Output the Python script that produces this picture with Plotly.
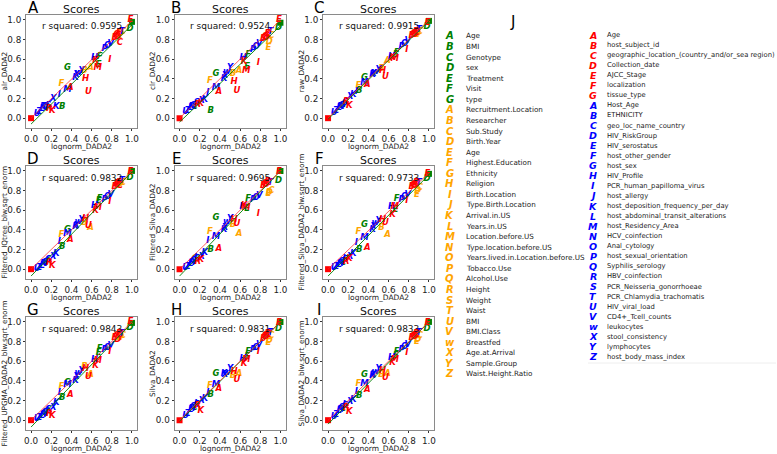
import plotly.graph_objects as go

W, H = 777, 454

# ---------------- data ----------------
panel_labels = ['A', 'B', 'C', 'D', 'E', 'F', 'G', 'H', 'I']
y_titles = ['alr_DADA2', 'clr_DADA2', 'raw_DADA2',
            'Filtered_IQtree_blw.sqrt_enorm', 'Filtered_Silva_DADA2',
            'Filtered_Silva_DADA2_blw.sqrt_enorm',
            'Filtered_UPGMA_DADA2_blw.sqrt_enorm', 'Silva_DADA2',
            'Silva_DADA2_blw.sqrt_enorm']
x_title = 'lognorm_DADA2'
r_squared = [0.9595, 0.9524, 0.9915, 0.9832, 0.9695, 0.9733, 0.9843, 0.9831, 0.9833]

point_colors = ['red', 'green', 'red', 'green', 'orange', 'orange', 'orange', 'red', 'red', 'red',
                'red', 'red', 'blue', 'blue', 'blue', 'blue', 'red', 'green', 'blue', 'red',
                'green', 'red', 'orange', 'red', 'red', 'orange', 'blue', 'blue', 'blue', 'blue',
                'green', 'blue', 'red', 'orange', 'blue', 'green', 'blue', 'blue', 'red', 'red',
                'blue', 'green', 'blue', 'blue', 'blue', 'blue', 'blue', 'blue']
point_letters = ['■', '■', 'E', 'D', 'C', 'D', 'E', 'F', 'G', 'B',
                 'C', 'D', 'T', 'V', 'O', 'P', 'I', 'F', 'H', 'K',
                 'E', 'M', 'A', 'U', 'H', 'B', 'Y', 'w', 'X', 'K',
                 'G', 'M', 'A', 'F', 'I', 'B', 'K', 'X', 'K', 'R',
                 'S', 'C', 'Q', 'L', 'Z', 'U', 'J', 'R']
point_x = [0.00, 1.00, 0.985, 0.98, 0.91, 0.89, 0.88, 0.87, 0.85, 0.83,
           0.88, 0.86, 0.90, 0.79, 0.76, 0.73, 0.78, 0.68, 0.63, 0.64,
           0.67, 0.66, 0.59, 0.57, 0.54, 0.53, 0.50, 0.47, 0.45, 0.44,
           0.36, 0.36, 0.39, 0.30, 0.28, 0.31, 0.25, 0.22, 0.21, 0.18,
           0.17, 0.15, 0.14, 0.11, 0.08, 0.06, 0.16, 0.12]

y_A = [0.00, 0.98, 1.00, 0.91, 0.88, 0.86, 0.84, 0.87, 0.85, 0.82, 0.77, 0.83, 0.88, 0.76, 0.74, 0.71,
       0.59, 0.62, 0.61, 0.58, 0.54, 0.51, 0.51, 0.27, 0.40, 0.48, 0.48, 0.46, 0.44, 0.41, 0.51, 0.29,
       0.31, 0.35, 0.24, 0.11, 0.11, 0.20, 0.07, 0.09, 0.13, 0.10, 0.12, 0.09, 0.06, 0.04, 0.13, 0.11]
y_B = [0.00, 0.97, 1.00, 0.92, 0.84, 0.78, 0.72, 0.86, 0.83, 0.81, 0.85, 0.82, 0.88, 0.76, 0.73, 0.69,
       0.56, 0.64, 0.61, 0.57, 0.52, 0.48, 0.48, 0.28, 0.37, 0.45, 0.51, 0.47, 0.43, 0.40, 0.45, 0.31,
       0.27, 0.38, 0.26, 0.07, 0.19, 0.18, 0.15, 0.14, 0.16, 0.11, 0.13, 0.10, 0.07, 0.06, 0.14, 0.12]
y_C = [0.00, 0.99, 0.97, 0.93, 0.88, 0.86, 0.85, 0.88, 0.86, 0.84, 0.87, 0.85, 0.90, 0.79, 0.76, 0.73,
       0.70, 0.66, 0.62, 0.61, 0.64, 0.60, 0.58, 0.42, 0.48, 0.50, 0.49, 0.47, 0.45, 0.44, 0.41, 0.36,
       0.34, 0.33, 0.27, 0.28, 0.24, 0.22, 0.13, 0.17, 0.16, 0.14, 0.13, 0.10, 0.07, 0.05, 0.15, 0.12]
y_D = [0.00, 1.00, 0.99, 0.93, 0.88, 0.87, 0.85, 0.88, 0.86, 0.84, 0.85, 0.87, 0.90, 0.76, 0.74, 0.71,
       0.68, 0.72, 0.64, 0.59, 0.69, 0.62, 0.42, 0.445, 0.51, 0.47, 0.50, 0.48, 0.44, 0.43, 0.40, 0.36,
       0.30, 0.35, 0.28, 0.23, 0.16, 0.13, 0.03, 0.06, 0.09, 0.07, 0.06, 0.03, 0.01, 0.00, 0.08, 0.05]
y_E = [0.00, 1.00, 0.99, 0.90, 0.80, 0.78, 0.77, 0.89, 0.87, 0.85, 0.88, 0.86, 0.88, 0.75, 0.73, 0.71,
       0.56, 0.72, 0.63, 0.64, 0.61, 0.62, 0.36, 0.465, 0.50, 0.455, 0.51, 0.48, 0.42, 0.40, 0.52, 0.33,
       0.21, 0.375, 0.29, 0.20, 0.17, 0.13, 0.09, 0.07, 0.10, 0.10, 0.08, 0.05, 0.02, 0.01, 0.11, 0.06]
y_F = [0.00, 0.97, 0.97, 0.92, 0.83, 0.80, 0.76, 0.88, 0.86, 0.84, 0.87, 0.85, 0.88, 0.76, 0.74, 0.71,
       0.69, 0.72, 0.63, 0.55, 0.60, 0.63, 0.35, 0.47, 0.50, 0.42, 0.49, 0.47, 0.43, 0.40, 0.45, 0.32,
       0.22, 0.38, 0.27, 0.20, 0.16, 0.13, 0.10, 0.07, 0.09, 0.06, 0.07, 0.04, 0.02, 0.01, 0.10, 0.05]
y_G = [0.00, 0.99, 1.00, 0.94, 0.86, 0.85, 0.84, 0.88, 0.86, 0.84, 0.87, 0.82, 0.88, 0.76, 0.74, 0.72,
       0.69, 0.73, 0.61, 0.55, 0.68, 0.60, 0.46, 0.445, 0.52, 0.54, 0.50, 0.48, 0.44, 0.40, 0.375, 0.36,
       0.255, 0.34, 0.28, 0.23, 0.18, 0.13, 0.045, 0.06, 0.10, 0.08, 0.07, 0.04, 0.02, 0.01, 0.09, 0.05]
y_H = [0.00, 1.00, 0.99, 0.93, 0.86, 0.81, 0.79, 0.88, 0.86, 0.83, 0.87, 0.85, 0.89, 0.77, 0.74, 0.72,
       0.69, 0.69, 0.62, 0.57, 0.64, 0.61, 0.475, 0.41, 0.49, 0.45, 0.52, 0.48, 0.46, 0.47, 0.47, 0.36,
       0.32, 0.35, 0.28, 0.26, 0.22, 0.20, 0.09, 0.15, 0.16, 0.13, 0.14, 0.10, 0.06, 0.04, 0.17, 0.11]
y_I = [0.00, 1.00, 0.99, 0.93, 0.86, 0.82, 0.80, 0.88, 0.86, 0.84, 0.87, 0.85, 0.89, 0.77, 0.75, 0.72,
       0.68, 0.70, 0.63, 0.58, 0.65, 0.61, 0.47, 0.43, 0.50, 0.46, 0.52, 0.49, 0.46, 0.45, 0.46, 0.37,
       0.31, 0.37, 0.29, 0.25, 0.21, 0.19, 0.08, 0.13, 0.15, 0.12, 0.13, 0.09, 0.05, 0.03, 0.16, 0.10]
panel_y = [y_A, y_B, y_C, y_D, y_E, y_F, y_G, y_H, y_I]

line_x = [0.0, 1.0]
red_line_y0 = [0.0, 0.0, 0.0, 0.0, 0.0, 0.0, 0.0, 0.0, 0.0]
red_line_y1 = [0.99, 1.0, 1.0, 1.0, 1.0, 0.98, 1.0, 1.0, 1.0]
green_line_y0 = [-0.06, -0.04, -0.01, -0.07, -0.07, -0.07, -0.07, -0.01, -0.04]
green_line_y1 = [0.95, 0.94, 0.99, 0.99, 1.0, 0.96, 0.99, 1.0, 1.0]

legend_title = 'J'
letters7 = ['A', 'B', 'C', 'D', 'E', 'F', 'G']
letters26 = list('ABCDEFGHIJKLMNOPQRSTUV') + ['w', 'X', 'Y', 'Z']
green_names = ['Age', 'BMI', 'Genotype', 'sex', 'Treatment', 'Visit', 'type']
orange_names = ['Recruitment.Location', 'Researcher', 'Sub.Study', 'Birth.Year', 'Age',
                'Highest.Education', 'Ethnicity', 'Religion', 'Birth.Location',
                'Type.Birth.Location', 'Arrival.in.US', 'Years.in.US', 'Location.before.US',
                'Type.location.before.US', 'Years.lived.in.Location.before.US', 'Tobacco.Use',
                'Alcohol.Use', 'Height', 'Weight', 'Waist', 'BMI', 'BMI.Class', 'Breastfed',
                'Age.at.Arrival', 'Sample.Group', 'Waist.Height.Ratio']
red_names = ['Age', 'host_subject_id', 'geographic_location_(country_and/or_sea region)',
             'Collection_date', 'AJCC_Stage', 'localization', 'tissue_type']
blue_names = ['Host_Age', 'ETHNICITY', 'geo_loc_name_country', 'HIV_RiskGroup', 'HIV_serostatus',
              'host_other_gender', 'host_sex', 'HIV_Profile', 'PCR_human_papilloma_virus',
              'host_allergy', 'host_deposition_frequency_per_day',
              'host_abdominal_transit_alterations', 'host_Residency_Area', 'HCV_coinfection',
              'Anal_cytology', 'host_sexual_orientation', 'Syphilis_serology', 'HBV_coinfection',
              'PCR_Neisseria_gonorrhoeae', 'PCR_Chlamydia_trachomatis', 'HIV_viral_load',
              'CD4+_Tcell_counts', 'leukocytes', 'stool_consistency', 'lymphocytes',
              'host_body_mass_index']

# ---------------- styling / layout ----------------
COLORS = {'green': '#008000', 'orange': '#FFA500', 'red': '#FF0000', 'blue': '#0000FF'}
FONT = 'DejaVu Sans'
col_left = [26, 174.5, 323]
row_top = [15, 166, 317]
PW, PH = 111, 113
letter_x = [33, 176, 319]
ylab_x = [4, 152.5, 301]


def px(x):
    return x / W


def py(y):
    return 1 - y / H


fig = go.Figure()
annotations = []
layout_axes = {}

for k in range(9):
    r, c = divmod(k, 3)
    left, top = col_left[c], row_top[r]
    xa = 'x' if k == 0 else f'x{k+1}'
    ya = 'y' if k == 0 else f'y{k+1}'
    xkey = 'xaxis' if k == 0 else f'xaxis{k+1}'
    ykey = 'yaxis' if k == 0 else f'yaxis{k+1}'
    axis_common = dict(showgrid=False, zeroline=False, showline=True, mirror=True,
                       linecolor='#8a8a8a', linewidth=1, ticks='outside', ticklen=2,
                       tickwidth=1, tickcolor='#333', tickvals=[0, 0.2, 0.4, 0.6, 0.8, 1.0],
                       tickformat='.1f', automargin=False,
                       tickfont=dict(family=FONT, size=8.8, color='#222'))
    layout_axes[xkey] = dict(axis_common, domain=[px(left), px(left + PW)], range=[-0.05, 1.05],
                             anchor=ya)
    layout_axes[ykey] = dict(axis_common, domain=[py(top + PH), py(top)], range=[-0.1, 1.05],
                             anchor=xa)

    ys = panel_y[k]
    # squares
    sq = [i for i, l in enumerate(point_letters) if l == '■']
    fig.add_trace(go.Scatter(x=[point_x[i] for i in sq], y=[ys[i] for i in sq], mode='markers',
                             marker=dict(symbol='square', size=6,
                                         color=[COLORS[point_colors[i]] for i in sq]),
                             xaxis=xa, yaxis=ya, showlegend=False, hoverinfo='skip'))
    # letters per colour group
    for grp in ['green', 'orange', 'blue', 'red']:
        idx = [i for i, col in enumerate(point_colors) if col == grp and point_letters[i] != '■']
        fig.add_trace(go.Scatter(
            x=[point_x[i] for i in idx], y=[ys[i] for i in idx], mode='text',
            text=[point_letters[i] for i in idx], textposition='middle center',
            textfont=dict(family=FONT, size=8.5, color=COLORS[grp], style='italic', weight='bold'),
            xaxis=xa, yaxis=ya, showlegend=False, hoverinfo='skip', cliponaxis=False))
    # lines
    fig.add_trace(go.Scatter(x=line_x, y=[green_line_y0[k], green_line_y1[k]], mode='lines',
                             line=dict(color='rgba(0,128,0,0.9)', width=1),
                             xaxis=xa, yaxis=ya, showlegend=False, hoverinfo='skip'))
    fig.add_trace(go.Scatter(x=line_x, y=[red_line_y0[k], red_line_y1[k]], mode='lines',
                             line=dict(color='rgba(255,40,40,0.75)', width=1),
                             xaxis=xa, yaxis=ya, showlegend=False, hoverinfo='skip'))

    cx = left + PW / 2
    annotations += [
        dict(text='Scores', x=px(cx), y=py(top - 6), font=dict(family=FONT, size=11, color='#111')),
        dict(text=panel_labels[k], x=px(letter_x[c]), y=py(top - 7), font=dict(family=FONT, size=15, color='#000')),
        dict(text=f'r squared: {r_squared[k]:.4f}', x=px(cx), y=py(top + 11.5),
             font=dict(family=FONT, size=9, color='#111')),
        dict(text=x_title, x=px(cx), y=py(top + PH + 18), font=dict(family=FONT, size=7.5, color='#222')),
        dict(text=y_titles[k], x=px(ylab_x[c]), y=py(top + PH / 2), textangle=-90,
             font=dict(family=FONT, size=7.3, color='#222')),
    ]

# legend J
annotations.append(dict(text=legend_title, x=px(512), y=py(22), font=dict(family=FONT, size=15, color='#000')))
left_items = [(l, n, 'green') for l, n in zip(letters7, green_names)] + \
             [(l, n, 'orange') for l, n in zip(letters26, orange_names)]
right_items = [(l, n, 'red') for l, n in zip(letters7, red_names)] + \
              [(l, n, 'blue') for l, n in zip(letters26, blue_names)]
for i, (l, n, col) in enumerate(left_items):
    yy = 36 + 10.56 * i
    annotations.append(dict(text=f'<b><i>{l}</i></b>', x=px(450), y=py(yy),
                            font=dict(family=FONT, size=10, color=COLORS[col])))
    annotations.append(dict(text=n, x=px(464), y=py(yy), xanchor='left',
                            font=dict(family=FONT, size=7.2, color='#222')))
for i, (l, n, col) in enumerate(right_items):
    yy = 35 + 10.06 * i
    annotations.append(dict(text=f'<b><i>{l}</i></b>', x=px(593), y=py(yy),
                            font=dict(family=FONT, size=9.5, color=COLORS[col])))
    annotations.append(dict(text=n, x=px(605), y=py(yy), xanchor='left',
                            font=dict(family=FONT, size=6.8, color='#222')))

for a in annotations:
    a.setdefault('xanchor', 'center')
    a.update(xref='paper', yref='paper', yanchor='middle', showarrow=False)

fig.update_layout(width=W, height=H, autosize=False, margin=dict(l=0, r=0, t=0, b=0),
                  paper_bgcolor='white', plot_bgcolor='white', annotations=annotations,
                  shapes=[dict(type='line', xref='paper', yref='paper', x0=px(588), x1=px(776),
                               y0=py(363), y1=py(363), line=dict(color='#eeeeee', width=1))],
                  **layout_axes)

fig.write_html('out.html', config={'displayModeBar': False},
               post_script="document.body.style.margin='0';document.body.style.padding='0';")
